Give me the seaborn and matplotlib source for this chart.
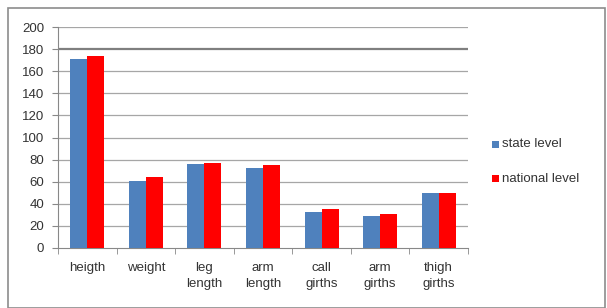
import pandas as pd
import numpy as np
import matplotlib.pyplot as plt
import seaborn as sns
from matplotlib.patches import Rectangle

categories = ["heigth", "weight", "leg\nlength", "arm\nlength", "call\ngirths", "arm\ngirths", "thigh\ngirths"]
state_level = [171, 61, 76, 72, 33, 29, 49.5]
national_level = [174, 64, 77, 75, 35, 31, 49.5]
y_ticks = [0, 20, 40, 60, 80, 100, 120, 140, 160, 180, 200]

df = pd.DataFrame({
    "category": categories * 2,
    "value": state_level + national_level,
    "series": ["state level"] * len(categories) + ["national level"] * len(categories),
})

sns.set_style("white")
plt.rcParams['font.family'] = ['Liberation Sans', 'DejaVu Sans']

fig = plt.figure(figsize=(6.07, 3.08), dpi=100)
ax = fig.add_axes([58 / 607, 1 - 248 / 308, 410 / 607, 221 / 308])

# outer chart frame
fig.patches.append(Rectangle((8 / 607, 0), 597 / 607, 1 - 8 / 308, transform=fig.transFigure,
                             fill=False, edgecolor="#8c8c8c", linewidth=1.2))

sns.barplot(data=df, x="category", y="value", hue="series", order=categories,
            palette=["#4F81BD", "#FF0000"], width=0.58, gap=0, saturation=1,
            linewidth=0, ax=ax, legend=False, zorder=3)

ax.set_ylim(0, 200)
ax.set_xlim(-0.5, len(categories) - 0.5)
ax.set_yticks(y_ticks)
ax.set_yticklabels([str(t) for t in y_ticks], fontsize=9.5, color="#333333")
ax.set_xticks(range(len(categories)))
ax.set_xticklabels(categories, fontsize=9.5, color="#333333", linespacing=1.45)
ax.tick_params(axis="x", length=0, pad=10)
ax.tick_params(axis="y", length=4, color="#888888", left=True, pad=6)
ax.set_xticks(np.arange(-0.5, len(categories), 1), minor=True)
ax.tick_params(axis="x", which="minor", length=4, color="#888888", bottom=True)
ax.set_xlabel("")
ax.set_ylabel("")

for t in y_ticks[1:]:
    if t == 180:
        ax.axhline(t, color="#7f7f7f", linewidth=1.6, zorder=1)
    else:
        ax.axhline(t, color="#a6a6a6", linewidth=0.9, zorder=1)

for side in ["top", "right"]:
    ax.spines[side].set_visible(False)
ax.spines["left"].set_color("#888888")
ax.spines["bottom"].set_color("#888888")

# legend
fig.patches.append(Rectangle((492 / 607, 1 - 148 / 308), 7 / 607, 7 / 308, transform=fig.transFigure,
                             facecolor="#4F81BD", edgecolor="none"))
fig.text(502 / 607, 1 - 144.5 / 308, "state level", fontsize=9.5, color="#333333", va="center")
fig.patches.append(Rectangle((492 / 607, 1 - 182 / 308), 7 / 607, 7 / 308, transform=fig.transFigure,
                             facecolor="#FF0000", edgecolor="none"))
fig.text(502 / 607, 1 - 178.5 / 308, "national level", fontsize=9.5, color="#333333", va="center")

fig.savefig("out.png", dpi=100)
